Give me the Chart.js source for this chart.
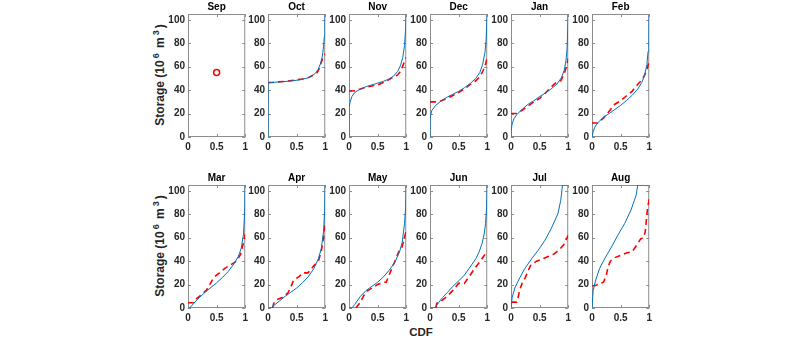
<!DOCTYPE html>
<html>
<head>
<meta charset="utf-8">
<script src="https://cdn.jsdelivr.net/npm/chart.js@4.4.1/dist/chart.umd.min.js"></script>
<style>
    body { margin: 0; background: #fff; width: 800px; height: 340px; position: relative; overflow: hidden; font-family: 'Liberation Sans', Arial, sans-serif; }
    canvas { position: absolute; }
    .ylab { position: absolute; font-weight: bold; font-size: 12px; color: #262626; white-space: nowrap; transform: translate(-50%, -50%) rotate(-90deg); }
    .ylab sup { font-size: 9px; line-height: 0; margin: 0 2px; }
    .xlab { position: absolute; font-weight: bold; font-size: 11.5px; color: #262626; transform: translate(-50%, -50%); }
</style>
</head>
<body>
<div class="ylab" style="left:160px; top:75px;">Storage (10<sup>6</sup> m<sup>3</sup>)</div>
<div class="ylab" style="left:160px; top:246px;">Storage (10<sup>6</sup> m<sup>3</sup>)</div>
<div class="xlab" style="left:421px; top:332px;">CDF</div>
<script>
const months = ['Sep', 'Oct', 'Nov', 'Dec', 'Jan', 'Feb', 'Mar', 'Apr', 'May', 'Jun', 'Jul', 'Aug'];
const xTicks = [0, 0.5, 1];
const yTicks = [0, 20, 40, 60, 80, 100];

// fitted distribution (blue), one array per month
const fitCdf = [
    [],
    [0, 0, 0.05, 0.2, 0.4, 0.55, 0.68, 0.76, 0.83, 0.88, 0.92, 0.95, 0.97, 0.985, 0.995, 1],
    [0, 0, 0.02, 0.05, 0.1, 0.2, 0.3, 0.4, 0.5, 0.6, 0.7, 0.78, 0.85, 0.9, 0.94, 0.97, 0.99, 1],
    [0, 0, 0.03, 0.1, 0.2, 0.3, 0.4, 0.5, 0.6, 0.7, 0.8, 0.87, 0.92, 0.96, 0.98, 1],
    [0, 0, 0.02, 0.05, 0.1, 0.2, 0.3, 0.4, 0.5, 0.6, 0.7, 0.8, 0.88, 0.93, 0.96, 0.98, 1],
    [0, 0.02, 0.05, 0.1, 0.2, 0.3, 0.4, 0.5, 0.6, 0.7, 0.8, 0.87, 0.92, 0.96, 0.98, 0.995, 1],
    [0, 0.03, 0.1, 0.2, 0.3, 0.4, 0.5, 0.6, 0.7, 0.8, 0.88, 0.93, 0.97, 0.99, 1],
    [0, 0.05, 0.1, 0.2, 0.3, 0.4, 0.5, 0.6, 0.7, 0.8, 0.88, 0.93, 0.97, 0.99, 1],
    [0, 0.05, 0.1, 0.2, 0.3, 0.4, 0.5, 0.6, 0.7, 0.8, 0.88, 0.93, 0.97, 0.99, 1],
    [0, 0.075, 0.15, 0.22, 0.3, 0.39, 0.51, 0.6, 0.68, 0.8, 0.86, 0.91, 0.95, 0.97, 0.99, 1],
    [0, 0.02, 0.07, 0.155, 0.24, 0.36, 0.47, 0.59, 0.7, 0.82, 0.87, 0.9, 1],
    [0, 0.02, 0.06, 0.13, 0.22, 0.34, 0.45, 0.57, 0.68, 0.77, 0.8, 1]
];
const fitStorage = [
    [],
    [0, 46, 46.5, 47, 47.8, 48.8, 50.2, 52, 54.5, 58, 63, 69, 77, 86, 96, 105],
    [0, 25, 30, 34.5, 38, 41, 43, 44.5, 46, 47.5, 49.5, 52, 56, 61, 68, 78, 92, 105],
    [0, 16, 22.5, 27, 31, 34, 36.5, 39, 42, 45.5, 50, 55, 62, 72, 82, 105],
    [0, 5, 11, 15.5, 19, 24, 28, 31, 34.5, 37.5, 41, 45, 50.5, 57, 65, 75, 105],
    [0, 4.5, 8.5, 12, 17, 20, 23.5, 27, 31, 35.5, 41, 46.5, 53, 62, 73, 90, 105],
    [0, 0, 4, 9, 13.5, 17.5, 21.5, 26, 31, 37.5, 44, 51, 63, 82, 105],
    [0, 0, 2, 6, 10, 13.5, 17, 21.5, 26.5, 33.5, 42, 50.5, 65, 83, 105],
    [0, 0, 3, 10, 15, 18.5, 22, 26.5, 32, 39, 47.5, 56, 72, 86, 105],
    [0, 0, 4.5, 9, 13, 18, 23.5, 28, 33.5, 42, 48, 55, 64, 72, 86, 105],
    [0, 9, 17.5, 26, 33.5, 42, 49, 57.5, 67.5, 80.5, 92, 105, 105],
    [0, 15, 23, 33.5, 42, 52, 62, 72, 83.5, 96, 105, 105]
];

// observed (red dashed)
const obsCdf = [
    [0.5],
    [0, 0.08, 0.15, 0.3, 0.45, 0.6, 0.72, 0.8, 0.86, 0.9, 0.94, 0.97, 1],
    [0, 0.12, 0.2, 0.3, 0.4, 0.5, 0.6, 0.7, 0.78, 0.85, 0.9, 0.95, 1],
    [0, 0.1, 0.2, 0.3, 0.4, 0.5, 0.6, 0.7, 0.8, 0.88, 0.93, 0.97, 1],
    [0, 0.1, 0.2, 0.3, 0.4, 0.5, 0.6, 0.7, 0.8, 0.87, 0.93, 0.97, 1],
    [0, 0.1, 0.2, 0.3, 0.4, 0.5, 0.6, 0.7, 0.8, 0.88, 0.95, 1],
    [0, 0.1, 0.15, 0.25, 0.32, 0.38, 0.45, 0.55, 0.65, 0.75, 0.85, 0.92, 0.97, 1],
    [0.08, 0.1, 0.15, 0.25, 0.35, 0.4, 0.45, 0.55, 0.6, 0.7, 0.8, 0.88, 0.93, 0.97, 1],
    [0.12, 0.2, 0.25, 0.3, 0.4, 0.5, 0.6, 0.65, 0.7, 0.75, 0.82, 0.87, 0.92, 0.96, 1],
    [0.1, 0.12, 0.2, 0.3, 0.4, 0.5, 0.6, 0.7, 0.8, 0.88, 0.95, 1],
    [0, 0.1, 0.12, 0.15, 0.2, 0.25, 0.3, 0.35, 0.45, 0.55, 0.65, 0.75, 0.85, 0.92, 1],
    [0, 0.05, 0.1, 0.2, 0.25, 0.28, 0.32, 0.4, 0.5, 0.6, 0.7, 0.8, 0.85, 0.9, 0.93, 0.95, 0.97, 1]
];
const obsStorage = [
    [55],
    [46.5, 46.5, 47, 47.5, 48.5, 49.5, 51, 53, 55, 59, 65, 69, 71],
    [39, 39.5, 41, 42.5, 43.5, 44.5, 46.5, 49, 51.5, 53, 56, 62, 68],
    [30, 30, 31, 33, 35.5, 38, 41, 45, 48, 52, 57, 62, 68],
    [20, 20, 23, 26.5, 30, 33, 37.5, 42.5, 47, 48, 54, 60, 67],
    [12, 12, 16, 22, 28, 31, 35, 39, 45, 49, 56, 65],
    [4.5, 4.5, 8, 12, 15, 20, 26, 30, 34, 37, 40, 46, 56, 63],
    [0, 4, 7, 9, 13, 18, 24, 27, 30, 30, 36, 40, 48, 60, 72],
    [0, 5, 10, 14, 17, 20, 22, 22, 28, 34, 42, 48, 51, 58, 66],
    [0, 4, 6, 10, 15, 21, 21, 28, 35, 40, 45, 49],
    [5, 5, 8, 15, 22, 26, 32, 37, 40, 42, 44, 46, 50, 54, 62],
    [19, 19, 20, 22, 28, 35, 40, 43, 45, 47, 48, 55, 59, 60, 65, 75, 85, 93]
];

const colLefts = [188, 268, 349, 430, 511, 592];
const rowTops = [14, 185];
const plotW = 58, plotH = 123;
const padL = 32, padR = 6, titleH = 14, axisH = 23;

Chart.defaults.font.family = "'Liberation Sans', Arial, sans-serif";
Chart.defaults.color = '#262626';

// MATLAB style box with inward ticks
const boxTicks = {
    id: 'boxTicks',
    beforeDatasetsDraw(chart) {
        const {ctx, chartArea: a, scales: {x, y}} = chart;
        ctx.save();
        ctx.strokeStyle = '#8c8c8c';
        ctx.lineWidth = 1;
        ctx.beginPath();
        ctx.rect(a.left + 0.5, a.top + 0.5, a.right - a.left - 1, a.bottom - a.top - 1);
        x.ticks.forEach(t => {
            const px = Math.round(x.getPixelForValue(t.value)) + 0.5;
            ctx.moveTo(px, a.bottom); ctx.lineTo(px, a.bottom - 3);
            ctx.moveTo(px, a.top); ctx.lineTo(px, a.top + 3);
        });
        y.ticks.forEach(t => {
            const py = Math.round(y.getPixelForValue(t.value)) + 0.5;
            ctx.moveTo(a.left, py); ctx.lineTo(a.left + 3, py);
            ctx.moveTo(a.right, py); ctx.lineTo(a.right - 3, py);
        });
        ctx.stroke();
        ctx.restore();
    }
};

function toPoints(xs, ys) {
    return xs.map((v, i) => ({x: v, y: ys[i]}));
}

months.forEach((name, i) => {
    const row = Math.floor(i / 6), col = i % 6;
    const canvas = document.createElement('canvas');
    canvas.width = padL + plotW + padR;
    canvas.height = titleH + plotH + axisH;
    canvas.style.left = (colLefts[col] - padL) + 'px';
    canvas.style.top = (rowTops[row] - titleH) + 'px';
    document.body.appendChild(canvas);

    const datasets = [];
    if (fitCdf[i].length) {
        datasets.push({
            data: toPoints(fitCdf[i], fitStorage[i]),
            showLine: true, borderColor: '#0072BD', borderWidth: 1,
            pointRadius: 0, tension: 0
        });
        datasets.push({
            data: toPoints(obsCdf[i], obsStorage[i]),
            showLine: true, borderColor: '#FF0000', borderWidth: 1.6, borderDash: [6, 4],
            pointRadius: 0, tension: 0
        });
    } else {
        datasets.push({
            data: toPoints(obsCdf[i], obsStorage[i]),
            showLine: false, pointStyle: 'circle', pointRadius: 3,
            borderColor: '#FF0000', borderWidth: 1.5, backgroundColor: 'rgba(0,0,0,0)'
        });
    }

    new Chart(canvas, {
        type: 'scatter',
        data: {datasets: datasets},
        options: {
            responsive: false,
            animation: false,
            devicePixelRatio: 1,
            layout: {padding: {left: 0, right: padR, top: 0, bottom: 0}},
            plugins: {
                legend: {display: false},
                tooltip: {enabled: false},
                title: {
                    display: true, text: name, color: '#000', fullSize: false,
                    font: {size: 10, weight: 'bold'}, padding: {top: 1, bottom: 1}
                }
            },
            scales: {
                x: {
                    type: 'linear', min: 0, max: 1,
                    afterBuildTicks: s => { s.ticks = xTicks.map(v => ({value: v})); },
                    afterFit: s => { s.height = axisH; },
                    grid: {display: false, drawTicks: false},
                    border: {display: false},
                    ticks: {font: {size: 10, weight: 'bold'}, padding: 4, maxRotation: 0, callback: v => String(v)}
                },
                y: {
                    type: 'linear', min: 0, max: 105,
                    afterBuildTicks: s => { s.ticks = yTicks.map(v => ({value: v})); },
                    afterFit: s => { s.width = padL; },
                    grid: {display: false, drawTicks: false},
                    border: {display: false},
                    ticks: {font: {size: 10, weight: 'bold'}, padding: 3, callback: v => String(v)}
                }
            }
        },
        plugins: [boxTicks]
    });
});
</script>
</body>
</html>
